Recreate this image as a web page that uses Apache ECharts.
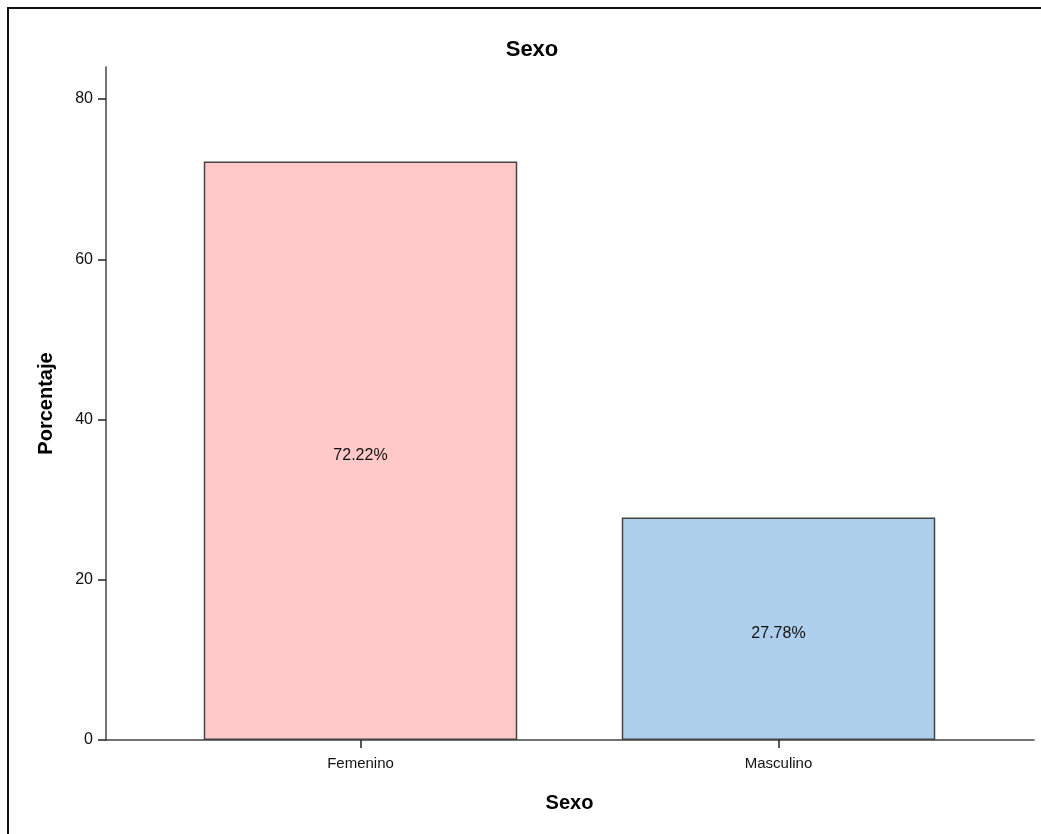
<!DOCTYPE html>
<html><head><meta charset="utf-8">
<script src="https://cdn.jsdelivr.net/npm/echarts@6/dist/echarts.min.js"></script>
<style>
html,body{margin:0;padding:0;background:#fff;}
#wrap{position:relative;width:1041px;height:834px;overflow:hidden;}
#chart{position:absolute;left:0;top:0;width:1041px;height:834px;}
#frame{position:absolute;left:7px;top:7px;width:1100px;height:900px;border-left:2px solid #111;border-top:2px solid #111;pointer-events:none;}
</style></head>
<body><div id="wrap"><div id="chart"></div><div id="frame"></div></div>
<script>
const categories = ['Femenino', 'Masculino'];
const percentages = [72.22, 27.78];
const barColors = ['#FFC9C9', '#AECFEC'];
const yTicks = [0, 20, 40, 60, 80];
const titleText = 'Sexo';
const xName = 'Sexo';
const yName = 'Porcentaje';

const font = 'Arial, "Liberation Sans", sans-serif';
const chart = echarts.init(document.getElementById('chart'), null, {renderer: 'canvas'});
chart.setOption({
  animation: false,
  backgroundColor: '#fff',
  title: {
    text: titleText, left: 527, top: 34, textAlign: 'center',
    textStyle: {fontFamily: font, fontWeight: 'bold', fontSize: 22, color: '#000'}
  },
  grid: [
    {left: 151.5, right: 53.5, top: 67, bottom: 94, containLabel: false},
    {left: 106, right: 7, top: 67, bottom: 94, containLabel: false}
  ],
  xAxis: [
    {
      type: 'category', gridIndex: 0, data: categories,
      axisLine: {show: false},
      axisTick: {show: true, alignWithLabel: true, length: 8, lineStyle: {color: '#222', width: 1.5}},
      axisLabel: {fontFamily: font, fontSize: 15, color: '#111', margin: 16},
      name: xName, nameLocation: 'middle', nameGap: 53,
      nameTextStyle: {fontFamily: font, fontWeight: 'bold', fontSize: 20, color: '#000'}
    },
    {
      type: 'value', gridIndex: 1, min: 0, max: 1,
      axisLine: {show: true, lineStyle: {color: '#444', width: 1.5}},
      axisTick: {show: false}, axisLabel: {show: false}, splitLine: {show: false}
    }
  ],
  yAxis: [
    {
      type: 'value', gridIndex: 0, min: 0, max: 84, interval: 20, offset: 45.5,
      axisLine: {show: true, onZero: false, lineStyle: {color: '#444', width: 1.5}},
      axisTick: {show: true, length: 8, customValues: yTicks, lineStyle: {color: '#222', width: 1.5}},
      axisLabel: {fontFamily: font, fontSize: 16, color: '#111', margin: 13,
        customValues: yTicks},
      splitLine: {show: false},
      name: yName, nameLocation: 'middle', nameGap: 50,
      nameTextStyle: {fontFamily: font, fontWeight: 'bold', fontSize: 20, color: '#000'}
    },
    {type: 'value', gridIndex: 1, show: false, min: 0, max: 84}
  ],
  series: [{
    type: 'bar', xAxisIndex: 0, yAxisIndex: 0,
    barCategoryGap: '25%',
    data: percentages.map((v, i) => ({value: v, itemStyle: {color: barColors[i]}})),
    itemStyle: {borderColor: '#444', borderWidth: 1.5},
    label: {show: true, position: 'inside', offset: [0, 5], formatter: p => p.value.toFixed(2) + '%',
      fontFamily: font, fontSize: 16, color: '#111'}
  }]
});
</script></body></html>
